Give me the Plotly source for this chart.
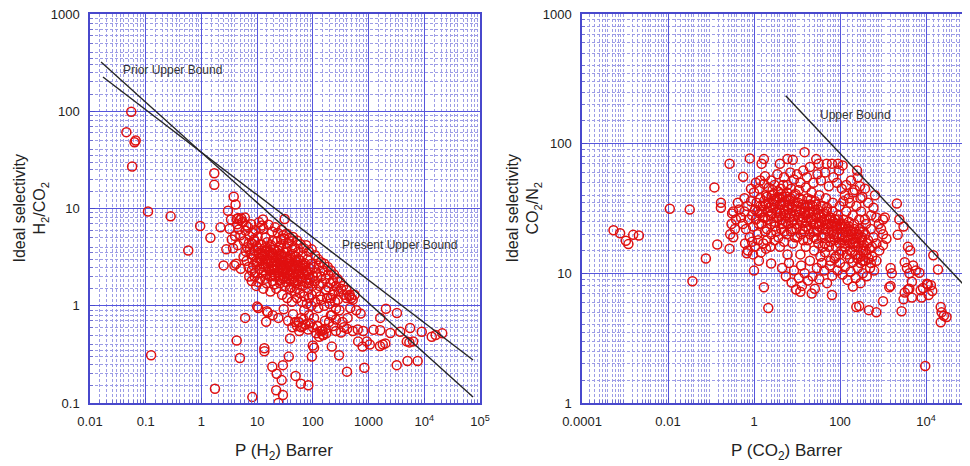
import plotly.graph_objects as go

# ---- H2/CO2 panel (left) ----
h2_pts = [
    (0.055, 99), (0.045, 61), (0.063, 48), (0.066, 50), (0.057, 27), (0.11, 9.3), (0.28, 8.3),
    (0.58, 3.7), (0.95, 6.6), (1.45, 5.0), (1.7, 23), (1.7, 17.5), (0.125, 0.31), (1.75, 0.14),
    (8.2, 0.115), (24, 0.1), (22, 0.135), (29, 0.121), (27.6, 0.172), (22.4, 0.2), (18.7, 0.236),
    (29, 0.245), (37, 0.3), (49, 0.19), (61, 0.158), (83, 0.152), (4.3, 0.44), (4.9, 0.29),
    (13.5, 0.365), (13.5, 0.34), (6.1, 0.75), (14.5, 0.685), (10, 0.98), (10.5, 0.95), (15.5, 0.85),
    (410, 0.21), (840, 0.23), (3200, 0.245), (5000, 0.27), (7600, 0.27), (295, 0.31), (96, 0.3),
    (39, 0.46), (100, 0.39), (105, 0.37), (219, 0.38),
    (2050, 0.93), (3230, 0.84), (1620, 0.75), (1230, 0.565), (1620, 0.56), (2460, 0.525),
    (3700, 0.54), (5560, 0.59), (9000, 0.54), (13600, 0.48), (16000, 0.5), (21000, 0.52),
    (4850, 0.43), (5400, 0.42), (6300, 0.43), (2000, 0.41), (1800, 0.4), (1600, 0.385),
    (930, 0.43), (1050, 0.4), (650, 0.43), (780, 0.38), (520, 0.55), (640, 0.57), (800, 0.55),
    (410, 0.58), (340, 0.68), (420, 0.75), (320, 0.53), (360, 0.6), (260, 0.55), (230, 0.62),
    (490, 1.2), (560, 1.3), (720, 0.83), (600, 0.9), (470, 0.95), (260, 0.93), (210, 0.8),
    (165, 0.7), (150, 0.56), (175, 0.52), (120, 0.62), (135, 0.55), (155, 0.5), (66, 0.62),
    (57, 0.55), (48, 0.68), (43, 0.6), (55, 0.68), (62, 0.75),
    (3.0, 9.5), (3.4, 7.7), (3.8, 13.2), (4.1, 11), (4.3, 7.8), (4.6, 8.0), (4.9, 7.6), (5.2, 7.9),
    (3.2, 6.2), (3.5, 4.8), (3.7, 3.9), (3.9, 2.6), (2.5, 2.6), (2.2, 6.4), (2.8, 3.8), (4.4, 6.9),
    (4.7, 6.1), (5.0, 5.3), (5.5, 7.3), (6.0, 8.1), (6.4, 6.7), (4.2, 2.7), (5.1, 2.4), (4.5, 4.2),
    (4.0, 5.2), (5.8, 4.6), (6.2, 5.9), (6.9, 6.4), (7.3, 5.2), (6.6, 4.0), (5.7, 3.2), (6.3, 3.6),
    (7.1, 4.4), (7.8, 6.9), (8.3, 5.6), (8.8, 4.8), (9.4, 6.0), (10.2, 5.1), (11.5, 6.3), (12.7, 7.7),
    (13.0, 6.2), (14.1, 5.0), (7.6, 3.4), (8.2, 3.0), (9.0, 3.7), (9.8, 4.1), (10.6, 3.5), (11.8, 4.3),
    (12.5, 3.2), (13.6, 3.9), (15.1, 4.5), (16.4, 3.6), (17.8, 4.2), (19.3, 3.1), (20.5, 3.8),
    (22.8, 4.6), (24.5, 3.4), (26.9, 4.2), (29.5, 5.3), (31.2, 7.8), (33.6, 3.9), (36.4, 4.4),
    (39.0, 3.3), (42.3, 3.8), (45.8, 4.0), (50.1, 3.2), (54.6, 3.6), (60.2, 2.9), (65.7, 3.3),
    (72.4, 2.7), (80.1, 3.0), (88.6, 2.4), (95.3, 2.7), (105, 2.5), (116, 2.2), (128, 2.6),
    (141, 2.0), (156, 2.3), (170, 1.9), (188, 2.1), (205, 1.7), (230, 1.8), (260, 1.6), (290, 1.4),
    (320, 1.5), (360, 1.3), (400, 1.2), (450, 1.25), (520, 1.15),
    (8.5, 2.6), (9.2, 2.2), (10.1, 2.8), (11.0, 2.4), (12.0, 2.9), (13.2, 2.5), (14.4, 2.1),
    (15.6, 2.7), (16.9, 2.3), (18.2, 2.8), (19.8, 2.4), (21.3, 2.0), (23.0, 2.6), (24.9, 2.2),
    (26.6, 2.9), (28.4, 2.4), (30.6, 2.0), (32.9, 2.6), (35.2, 2.2), (37.8, 2.8), (40.5, 2.3),
    (43.6, 1.9), (46.7, 2.5), (49.8, 2.1), (53.4, 1.8), (57.2, 2.3), (61.5, 1.9), (66.3, 1.6),
    (71.0, 2.1), (76.8, 1.7), (83.2, 1.5), (90.5, 1.9), (98.0, 1.6), (7.2, 2.0), (8.0, 1.8),
    (9.6, 1.6), (11.4, 1.9), (12.9, 1.5), (14.8, 1.7), (17.3, 1.4), (19.0, 1.8), (22.1, 1.5),
    (25.6, 1.7), (28.0, 1.3), (31.8, 1.6), (34.6, 1.2), (38.6, 1.5), (42.0, 1.1), (47.5, 1.4),
    (52.0, 1.2), (58.5, 1.35), (63.8, 1.1), (70.2, 1.25), (78.0, 1.05), (86.0, 1.2), (94.0, 1.0),
    (110, 1.1), (125, 0.95), (140, 1.15), (160, 1.0), (180, 1.2), (200, 1.05), (225, 1.3),
    (250, 1.1), (280, 1.15),
    (10.8, 7.2), (12.2, 6.7), (16.0, 6.8), (18.5, 5.8), (21.0, 6.4), (23.5, 5.6), (27.5, 6.0),
    (30.0, 4.9), (34.0, 5.5), (38.0, 5.0), (44.0, 5.1), (52.0, 4.7), (60.0, 4.3), (68.0, 3.9),
    (76.0, 4.2), (85.0, 3.6), (95.0, 3.8), (110, 3.3), (125, 3.0), (140, 2.8), (160, 2.7),
    (185, 2.5), (210, 2.3), (240, 2.1), (275, 1.9), (310, 1.75), (350, 1.6), (400, 1.45), (460, 1.3),
    (15, 0.88), (19, 0.8), (24, 0.75), (30, 0.92), (36, 0.7), (44, 0.82), (52, 0.62), (56, 0.68),
    (62, 0.6), (68, 0.72), (74, 0.64), (82, 0.57), (90, 0.66), (100, 0.6), (115, 0.52), (130, 0.48),
    (145, 0.55), (120, 0.62), (150, 0.5), (170, 0.58), (195, 0.68), (105, 0.75), (85, 0.8),
    (70, 0.9), (220, 0.8), (260, 0.72), (300, 0.9),
    (15, 3.0), (17, 3.3), (20, 2.9), (22, 3.2), (25, 3.0), (27, 3.4), (30, 2.8), (33, 3.1),
    (36, 2.7), (40, 3.0), (44, 2.6), (48, 2.9), (12, 3.4), (14, 3.6), (18, 3.5), (24, 3.7),
    (21, 2.5), (26, 2.5), (30, 2.4), (35, 2.5), (45, 2.2), (55, 2.6), (65, 2.4), (75, 2.3),
    (85, 2.1), (60, 2.0), (50, 1.7), (40, 1.8), (34, 1.9), (29, 1.9), (25, 2.0), (20, 2.1), (17, 2.0),
    (7.5, 3.8), (8.0, 4.4), (8.6, 3.3), (9.1, 4.6), (9.7, 2.9), (10.4, 3.9), (11.1, 3.1), (11.9, 3.7),
    (12.6, 2.7), (13.5, 3.4), (14.3, 2.5), (15.3, 3.8), (16.2, 2.9), (17.2, 4.0), (18.3, 2.6),
    (19.5, 3.4), (20.7, 2.3), (22.0, 3.6), (23.4, 2.8), (24.9, 4.0), (26.4, 2.6), (28.1, 3.2),
    (29.9, 2.2), (31.8, 3.5), (33.8, 2.4), (35.9, 3.0), (38.2, 2.1), (40.6, 2.6), (43.2, 3.4),
    (45.9, 2.0), (48.8, 2.4), (51.9, 2.8), (55.2, 2.1), (58.7, 2.5), (62.4, 1.8), (66.4, 2.2),
    (70.6, 2.6), (75.1, 1.9), (79.8, 2.2), (84.9, 1.7), (9.0, 2.0), (10.5, 1.75), (12.2, 2.2),
    (14.0, 1.9), (16.0, 2.4), (18.0, 2.05), (20.0, 1.65), (23.0, 2.35), (26.0, 1.85), (29.0, 2.6),
    (33.0, 1.75), (37.0, 2.05), (41.0, 1.55), (46.0, 1.75), (52.0, 1.5), (7.0, 2.5), (6.5, 2.9),
    (8.0, 2.3), (19.0, 4.6), (27.0, 4.8), (35.0, 3.6), (42.0, 4.6), (56.0, 3.0), (64.0, 2.7),
    (110, 1.8), (130, 1.6), (150, 1.7), (170, 1.45), (120, 2.0), (100, 2.0), (95, 1.3), (115, 1.4),
    (135, 1.25), (190, 1.55), (240, 1.4), (210, 1.2),
]
h2_x = [p[0] for p in h2_pts]
h2_y = [p[1] for p in h2_pts]

prior_x = [0.0158, 75000]
prior_y = [321, 0.115]
present_x = [0.0171, 75000]
present_y = [225, 0.277]

# ---- CO2/N2 panel (right) ----
co2_pts = [
    (0.00054, 21.5), (0.00077, 20.4), (0.00105, 17.8), (0.0012, 16.8), (0.00155, 19.8), (0.0021, 19.6),
    (0.011, 31.5), (0.032, 31), (0.037, 8.7), (0.076, 13), (0.12, 46), (0.14, 16.7), (0.17, 35),
    (0.17, 32), (0.27, 70), (0.27, 15.5), (0.28, 20), (0.31, 29), (0.3, 24), (0.33, 19),
    (0.56, 55.6), (0.8, 77), (0.68, 14.3), (1.7, 76), (1.5, 70), (1.7, 7.8), (2.15, 5.4), (2.5, 11.9),
    (4, 70), (6, 76), (8, 75), (15, 86), (28, 76), (32, 70), (49, 70), (65, 70), (90, 70), (115, 68),
    (250, 62), (290, 47), (330, 39), (2100, 34.5), (2400, 26), (3000, 23), (2200, 19.8), (1100, 27),
    (1000, 26), (1000, 16.5), (3800, 16), (4300, 15), (3200, 12.2), (3600, 11), (4100, 10),
    (5000, 11.5), (5800, 10.5), (7000, 10.1), (4700, 8.6), (4100, 7.6), (3000, 6.3), (4700, 6.5),
    (2700, 5.1), (3200, 7.1), (3800, 7.5), (8500, 7.7), (10500, 8.3), (14800, 13.8), (19000, 10.7),
    (11000, 8.2), (13000, 8.1), (14000, 7.3), (11500, 6.8), (7500, 7.4), (7900, 6.5), (22000, 5.5),
    (23000, 5.0), (26000, 4.7), (30000, 4.6), (22000, 4.2), (9600, 1.93), (1500, 11), (1600, 10),
    (1500, 8), (1400, 7.8), (1000, 6.1), (700, 5.0), (470, 5.2), (240, 5.5), (280, 5.6), (65, 6.8),
    (12, 7.2), (22, 7.0), (200, 7.9),
    (0.5, 27), (0.55, 24), (0.6, 30), (0.65, 22), (0.7, 33), (0.75, 26), (0.8, 19), (0.85, 36),
    (0.9, 28), (0.95, 23), (1.0, 42), (1.05, 31), (1.1, 26), (1.15, 35), (1.2, 20), (1.3, 45),
    (1.35, 29), (1.4, 38), (1.5, 24), (1.6, 33), (1.7, 49), (1.8, 27), (1.9, 40), (2.0, 22),
    (0.45, 31), (0.38, 26), (0.42, 35), (0.33, 30), (0.36, 22), (0.62, 17), (0.72, 15), (0.9, 17.5),
    (1.05, 16), (1.25, 18), (1.45, 14.5), (1.65, 17), (1.9, 15.5), (0.85, 45), (1.1, 50), (1.4, 52),
    (1.8, 56), (0.6, 38), (2.2, 46), (2.5, 52), (3.0, 48), (3.5, 58), (4.2, 45), (5.0, 55), (6.0, 48),
    (7.0, 60), (8.5, 53), (10, 58), (12, 50), (14, 62), (17, 55), (20, 66), (24, 50), (30, 58),
    (36, 52), (45, 60), (55, 47), (70, 55), (85, 50), (110, 45), (130, 40), (160, 38), (200, 42),
    (95, 62),
    (2.2, 35), (2.4, 28), (2.6, 40), (2.8, 32), (3.0, 25), (3.2, 37), (3.4, 30), (3.6, 43), (3.8, 27),
    (4.0, 34), (4.3, 22), (4.6, 39), (4.9, 29), (5.2, 36), (5.5, 25), (5.9, 42), (6.3, 31), (6.7, 27),
    (7.1, 38), (7.6, 22), (8.1, 33), (8.7, 28), (9.3, 41), (10, 24), (10.7, 35), (11.5, 30),
    (12.3, 20), (13.2, 37), (14.1, 27), (15.1, 32), (16.2, 23), (17.4, 38), (18.6, 29), (20, 34),
    (21.4, 25), (23, 30), (24.6, 21), (26.4, 36), (28.3, 27), (30.3, 31), (32.5, 23), (34.8, 28),
    (37.3, 19), (40, 33), (43, 26), (46, 22), (49, 30), (53, 24), (57, 19), (61, 27), (65, 21),
    (70, 25), (75, 18), (80, 23), (86, 20), (92, 26), (99, 17), (106, 22), (114, 19), (122, 24),
    (131, 16), (140, 21), (150, 18), (161, 23), (173, 15), (185, 20), (198, 17), (212, 22),
    (228, 14), (245, 19), (262, 16), (281, 21), (302, 13.5), (324, 18), (347, 15),
    (2.1, 30), (2.9, 36), (3.9, 38), (5.1, 31), (6.8, 34), (8.9, 36), (11.8, 26), (15.7, 28),
    (20.8, 27), (27.6, 24), (36.6, 25), (48.5, 26), (64.3, 23), (85.3, 24), (113, 23), (150, 22),
    (199, 21), (264, 20), (350, 21), (2.5, 24), (3.3, 21), (4.4, 26), (5.8, 20), (7.7, 25),
    (10.2, 19), (13.5, 22), (17.9, 18), (23.7, 24), (31.4, 17), (41.6, 20), (55.2, 16), (73.1, 19),
    (97, 14), (128, 17), (170, 13), (225, 16), (298, 12), (395, 15), (1.5, 30), (1.9, 34),
    (2.7, 44), (4.8, 48), (7.3, 45), (11, 44), (16, 46), (22, 42), (33, 40), (47, 38), (68, 35),
    (98, 33), (140, 30), (200, 28), (280, 26), (400, 24), (520, 22), (600, 19), (700, 17),
    (820, 15), (450, 18), (380, 26), (310, 30), (240, 33), (170, 35), (120, 36),
    (4.5, 11), (5.5, 9.5), (6.5, 12), (7.5, 8.5), (8.5, 10.5), (9.5, 7.5), (11, 9.2), (12.5, 11.5),
    (13, 8), (15, 10), (18, 8.8), (20, 12.5), (23, 9.5), (26, 7.6), (29, 11), (33, 9), (38, 12),
    (43, 10.5), (50, 8.4), (58, 11.5), (66, 9.6), (75, 13), (88, 10.5), (100, 12), (115, 9.8),
    (130, 11.2), (150, 8.9), (175, 10.3), (200, 12.2), (230, 9.2), (260, 11), (300, 8.4),
    (340, 10), (380, 12.5), (420, 9.5), (500, 11), (560, 13.5), (620, 10.5), (700, 12.5),
    (1.0, 10.5), (1.3, 12.5), (0.95, 14),
    (140, 48), (180, 52), (220, 44), (300, 38), (380, 45), (450, 35), (530, 28), (600, 32),
    (700, 27), (800, 24), (900, 22), (1000, 20), (1200, 18.5), (650, 40), (260, 55),
    (1.2, 30), (1.3, 24), (1.4, 33), (1.6, 27), (1.7, 36), (1.8, 21), (2.0, 39), (2.1, 26),
    (2.3, 32), (2.5, 20), (2.6, 29), (2.8, 41), (3.0, 34), (3.1, 23), (3.4, 27), (3.5, 38),
    (3.7, 19), (3.9, 31), (4.1, 29), (4.3, 41), (4.5, 24), (4.8, 35), (5.0, 21), (5.3, 28),
    (5.6, 39), (5.9, 33), (6.2, 24), (6.5, 37), (6.9, 29), (7.3, 21), (7.7, 32), (8.2, 26),
    (8.7, 40), (9.2, 30), (9.7, 22), (10.3, 33), (10.9, 27), (11.6, 38), (12.3, 31), (13, 25),
    (13.8, 34), (14.6, 21), (15.5, 30), (16.5, 25), (17.5, 33), (18.5, 22), (19.6, 30), (20.8, 37),
    (22, 26), (23.4, 33), (24.8, 19), (26.3, 28), (27.9, 34), (29.6, 21), (31.4, 29), (33.3, 24),
    (35.3, 33), (37.4, 27), (39.7, 22), (42.1, 29), (44.6, 17), (47.3, 24), (50.2, 32), (53.2, 21),
    (56.4, 27), (59.8, 17.5), (63.4, 24), (67.2, 30), (71.3, 20), (75.6, 26), (80.2, 16), (85, 22),
    (90, 28), (95, 19), (101, 24), (107, 15), (113, 20), (120, 26), (127, 18), (135, 23), (143, 14),
    (152, 19), (161, 25), (170, 17), (181, 21), (192, 14.5), (203, 18.5), (215, 24), (228, 17.5),
    (242, 20), (256, 13), (272, 17), (288, 22), (305, 15), (323, 19), (343, 12.5), (364, 16.5),
    (385, 20), (408, 14), (433, 17), (460, 13), (490, 15.5), (520, 12), (550, 16), (4, 16), (6, 14),
    (8, 17), (12, 14), (16, 16), (25, 15), (35, 13.5), (45, 14.5), (60, 12.5), (80, 13.5), (3, 18),
    (5, 17.5), (9, 19), (14, 18), (20, 20), (28, 18.5), (40, 16), (2, 18), (2.4, 16),
]
co2_x = [p[0] for p in co2_pts]
co2_y = [p[1] for p in co2_pts]

bound_x = [5.46, 76500]
bound_y = [234, 8.13]

left_xticks = [0.01, 0.1, 1, 10, 100, 1000, 1e4, 1e5]
left_xtext = ["0.01", "0.1", "1", "10", "100", "1000", "10<sup>4</sup>", "10<sup>5</sup>"]
left_yticks = [0.1, 1, 10, 100, 1000]
left_ytext = ["0.1", "1", "10", "100", "1000"]
right_xticks = [1e-4, 1e-2, 1, 100, 1e4]
right_xtext = ["0.0001", "0.01", "1", "100", "10<sup>4</sup>"]
right_yticks = [1, 10, 100, 1000]
right_ytext = ["1", "10", "100", "1000"]

FONT = "Liberation Sans, Arial, sans-serif"
MARK = dict(symbol="circle-open", size=9, color="#e01010", line=dict(width=1.5, color="#e01010"))
LINE = dict(color="#262626", width=1.4)
W = 970.0
OFF = 8  # page body margin


def minor_vals(lo, hi):
    steps = [1.5, 2, 2.5, 3, 3.5, 4, 5, 6, 7, 8, 9]
    return [s * 10 ** e for e in range(lo, hi) for s in steps]


def axis_style(tickvals, ticktext, rng, lo, hi, domain, anchor):
    return dict(
        type="log", range=rng, domain=domain, anchor=anchor,
        tickmode="array", tickvals=tickvals, ticktext=ticktext,
        showline=True, mirror=True, linecolor="#4848cc", linewidth=1.5,
        ticks="inside", ticklen=5, tickcolor="#4848cc", ticklabelstandoff=6,
        ticklabeloverflow="allow",
        showgrid=True, gridcolor="#5656dc", gridwidth=1,
        zeroline=False, automargin=False,
        tickfont=dict(family=FONT, size=13, color="#222"),
        minor=dict(tickmode="array", tickvals=minor_vals(lo, hi), showgrid=True,
                   gridcolor="#9c9ce6", griddash="3px,2px", gridwidth=1,
                   ticks="inside", ticklen=3, tickcolor="#7070d0"),
    )


fig = go.Figure()
fig.add_trace(go.Scatter(x=h2_x, y=h2_y, mode="markers", marker=MARK, xaxis="x", yaxis="y"))
fig.add_trace(go.Scatter(x=prior_x, y=prior_y, mode="lines", line=LINE, xaxis="x", yaxis="y"))
fig.add_trace(go.Scatter(x=present_x, y=present_y, mode="lines", line=LINE, xaxis="x", yaxis="y"))
fig.add_trace(go.Scatter(x=co2_x, y=co2_y, mode="markers", marker=MARK, xaxis="x2", yaxis="y2"))
fig.add_trace(go.Scatter(x=bound_x, y=bound_y, mode="lines", line=LINE, xaxis="x2", yaxis="y2"))

fig.update_layout(
    width=970, height=466, showlegend=False,
    paper_bgcolor="white", plot_bgcolor="white",
    margin=dict(l=0, r=0, t=6, b=71),
    font=dict(family=FONT, color="#222"),
    xaxis=axis_style(left_xticks, left_xtext, [-2, 5], -2, 5, [(90 - OFF) / W, (480 - OFF) / W], "y"),
    yaxis=axis_style(left_yticks, left_ytext, [-1, 3], -1, 3, [0, 1], "x"),
    xaxis2=axis_style(right_xticks, right_xtext, [-4, 5], -4, 5, [(582 - OFF) / W, (969 - OFF) / W], "y2"),
    yaxis2=axis_style(right_yticks, right_ytext, [0, 3], 0, 3, [0, 1], "x2"),
)

ann_font = dict(family=FONT, size=12, color="#333")
title_font = dict(family=FONT, size=17, color="#222")
fig.add_annotation(x=-1.443, y=2.424, xref="x", yref="y", text="Prior Upper Bound",
                   showarrow=False, xanchor="left", font=ann_font)
fig.add_annotation(x=2.488, y=0.625, xref="x", yref="y", text="Present Upper Bound",
                   showarrow=False, xanchor="left", font=ann_font)
fig.add_annotation(x=1.488, y=2.221, xref="x2", yref="y2", text="Upper Bound",
                   showarrow=False, xanchor="left", font=ann_font)

fig.add_annotation(x=(284 - OFF) / W, y=-49 / 389, xref="paper", yref="paper",
                   text="P (H<sub>2</sub>) Barrer", showarrow=False,
                   xanchor="center", yanchor="middle", font=title_font)
fig.add_annotation(x=(787 - OFF) / W, y=-49 / 389, xref="paper", yref="paper",
                   text="P (CO<sub>2</sub>) Barrer", showarrow=False,
                   xanchor="center", yanchor="middle", font=title_font)
fig.add_annotation(x=(30 - OFF) / W, y=0.5, xref="paper", yref="paper",
                   text="Ideal selectivity<br>H<sub>2</sub>/CO<sub>2</sub>",
                   showarrow=False, textangle=-90, xanchor="center", yanchor="middle",
                   font=dict(family=FONT, size=16, color="#222"))
fig.add_annotation(x=(523 - OFF) / W, y=0.5, xref="paper", yref="paper",
                   text="Ideal selectivity<br>CO<sub>2</sub>/N<sub>2</sub>",
                   showarrow=False, textangle=-90, xanchor="center", yanchor="middle",
                   font=dict(family=FONT, size=16, color="#222"))

fig.write_html("out.html")
